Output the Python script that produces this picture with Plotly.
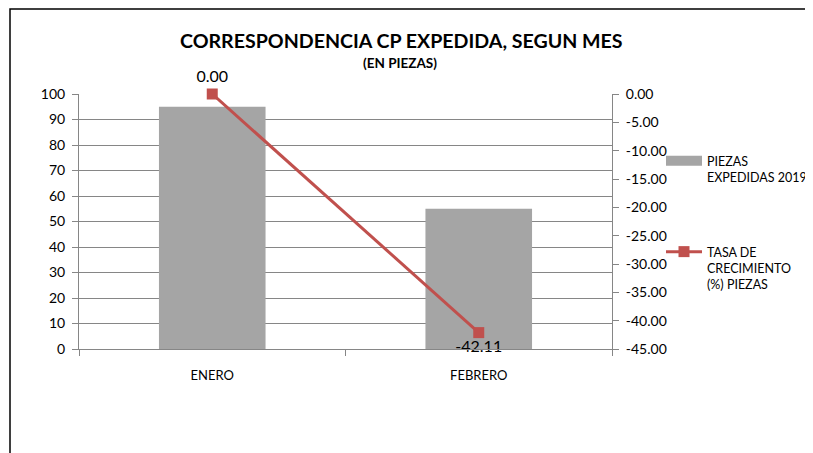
import plotly.graph_objects as go

categories = ["ENERO", "FEBRERO"]
piezas = [95, 55]
tasa = [0.00, -42.11]
tasa_labels = ["0.00", "-42.11"]
left_ticks = [0, 10, 20, 30, 40, 50, 60, 70, 80, 90, 100]
right_ticks = [0, -5, -10, -15, -20, -25, -30, -35, -40, -45]
right_tick_text = ["0.00", "-5.00", "-10.00", "-15.00", "-20.00", "-25.00", "-30.00", "-35.00", "-40.00", "-45.00"]

# the page body adds an 8px offset; work in screen pixels and convert
OFF = 8
W, H = 813 - OFF, 453 - OFF
L, R, T, B = 79, 612, 94, 349  # screen pixels of the plot area

def px(x):
    return (x - L) / (R - L)

def py(y):
    return (B - y) / (B - T)

FONT = "Lato, Calibri, Carlito, sans-serif"
BAR_NAME = "PIEZAS<br>EXPEDIDAS 2019"
LINE_NAME = "TASA DE<br>CRECIMIENTO<br>(%) PIEZAS"

fig = go.Figure()
fig.add_trace(go.Bar(
    x=categories, y=piezas, name=BAR_NAME,
    marker=dict(color="#A5A5A5", line=dict(width=0)), width=0.4,
    showlegend=False, yaxis="y",
))
# legend entry for bars drawn as a wide grey swatch
fig.add_trace(go.Scatter(
    x=[None], y=[None], name=BAR_NAME, mode="lines",
    line=dict(color="#A5A5A5", width=10), legend="legend", showlegend=True,
))
fig.add_trace(go.Scatter(
    x=categories, y=tasa, name=LINE_NAME,
    mode="lines+markers+text", text=tasa_labels,
    textposition=["top center", "bottom center"],
    textfont=dict(size=16, color="#000000", family=FONT),
    line=dict(color="#C0504D", width=3),
    marker=dict(symbol="square", size=11, color="#C0504D"),
    yaxis="y2", legend="legend2", cliponaxis=False,
))

fig.update_layout(
    width=W, height=H,
    margin=dict(l=L - OFF, r=W - (R - OFF), t=T - OFF, b=H - (B - OFF), pad=0, autoexpand=False),
    paper_bgcolor="white", plot_bgcolor="white",
    font=dict(family=FONT, size=13, color="#000000"),
    showlegend=True,
    xaxis=dict(
        type="category", showgrid=False, showline=True, linecolor="#868686", linewidth=1,
        ticks="outside", tickson="boundaries", ticklen=6, tickcolor="#868686",
        tickfont=dict(size=13, family=FONT), ticklabelstandoff=14,
    ),
    yaxis=dict(
        range=[0, 100], tickvals=left_ticks, showgrid=True, gridcolor="#868686", gridwidth=1,
        showline=True, linecolor="#868686", linewidth=1, ticks="outside", ticklen=6,
        tickcolor="#868686", tickfont=dict(size=14, family=FONT), zeroline=False,
        ticklabelstandoff=4,
    ),
    yaxis2=dict(
        range=[-45, 0], tickvals=right_ticks, ticktext=right_tick_text, overlaying="y",
        side="right", showgrid=False, showline=True, linecolor="#868686", linewidth=1,
        ticks="outside", ticklen=6, tickcolor="#868686", tickfont=dict(size=14, family=FONT),
        zeroline=False, ticklabelstandoff=4,
    ),
    legend=dict(x=px(661), y=py(146), xanchor="left", yanchor="top", bgcolor="rgba(0,0,0,0)",
                font=dict(size=12.5, family=FONT), valign="top", itemwidth=36),
    legend2=dict(x=px(661), y=py(237), xanchor="left", yanchor="top", bgcolor="rgba(0,0,0,0)",
                 font=dict(size=12.5, family=FONT), valign="top", itemwidth=36),
    shapes=[dict(type="rect", xref="paper", yref="paper", x0=px(10), x1=px(830), y0=py(470), y1=py(9),
                 line=dict(color="#000000", width=1.5), fillcolor="rgba(0,0,0,0)", layer="below")],
    annotations=[
        dict(text="<b>CORRESPONDENCIA CP EXPEDIDA, SEGUN MES</b>", xref="paper", yref="paper",
             x=px(401), y=py(40), xanchor="center", yanchor="middle", showarrow=False,
             font=dict(size=19.6, family=FONT)),
        dict(text="<b>(EN PIEZAS)</b>", xref="paper", yref="paper",
             x=px(400), y=py(63), xanchor="center", yanchor="middle", showarrow=False,
             font=dict(size=13.5, family=FONT)),
    ],
)

fig.write_html("out.html")
